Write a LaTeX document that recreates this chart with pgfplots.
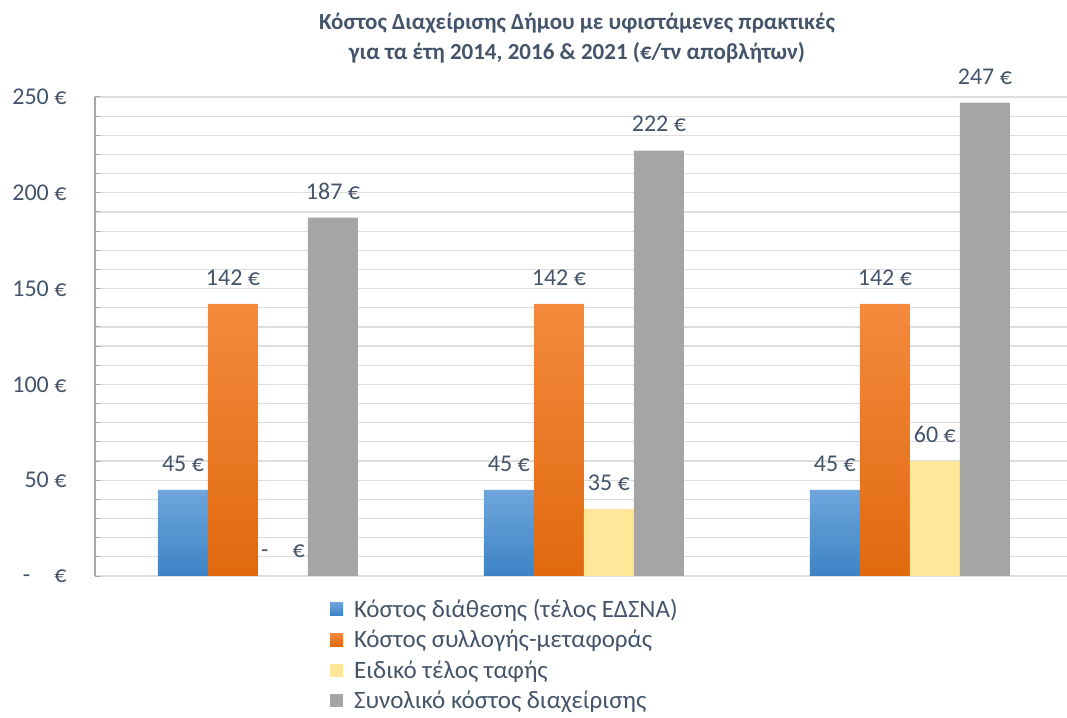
\documentclass[border=0pt]{standalone}
\usepackage{fontspec}
\setmainfont{Carlito}
\usepackage{pgfplots}
\pgfplotsset{compat=1.18}
\definecolor{txt}{HTML}{44546A}
\definecolor{grd}{HTML}{DDDDDD}
\definecolor{axl}{HTML}{A6A6A6}
\definecolor{bltop}{HTML}{6EA6DC}
\definecolor{blbot}{HTML}{3D83C5}
\definecolor{ortop}{HTML}{F48A3D}
\definecolor{orbot}{HTML}{E0690F}
\definecolor{yel}{HTML}{FFE699}
\definecolor{gry}{HTML}{A5A5A5}
\begin{document}
\begin{tikzpicture}
\useasboundingbox (0,0) rectangle (1067bp,718bp);
\node[font=\fontsize{23bp}{30bp}\selectfont\bfseries, text=txt, align=center, anchor=north] at (577bp,708bp)
  {Κόστος Διαχείρισης Δήμου με υφιστάμενες πρακτικές\\για τα έτη 2014, 2016 \& 2021 (€/τν αποβλήτων)};
\begin{axis}[
  at={(95bp,142bp)}, anchor=south west,
  scale only axis, width=972bp, height=479bp,
  xmin=-0.5, xmax=2.482, ymin=0, ymax=250,
  ybar=0pt, bar width=50bp,
  xtick=\empty,
  ytick={0,50,100,150,200,250},
  yticklabels={{-\quad €},{50 €},{100 €},{150 €},{200 €},{250 €}},
  minor y tick num=4,
  ymajorgrids, yminorgrids,
  major grid style={grd, line width=1.2bp},
  minor grid style={grd, line width=1.2bp},
  axis x line*=bottom, axis y line*=left,
  x axis line style={draw=none},
  y axis line style={axl, line width=1.2bp},
  tick align=inside,
  major tick length=5bp, minor tick length=5bp,
  tick style={axl, line width=1bp},
  ticklabel style={font=\fontsize{24bp}{28bp}\selectfont, text=txt},
  yticklabel style={xshift=-25bp},
  /pgf/number format/assume math mode=true,
  nodes near coords={\pgfmathprintnumber[assume math mode=true]{\pgfplotspointmeta}~€},
  every node near coord/.append style={font=\fontsize{24bp}{28bp}\selectfont, text=txt, yshift=15bp},
  legend style={at={(0.2418,-0.043)}, anchor=north west, draw=none, fill=none,
    font=\fontsize{25bp}{29bp}\selectfont, text=txt, row sep=7.5bp, inner sep=0pt,
    nodes={inner xsep=11bp}},
  legend cell align=left,
  legend image code/.code={\fill[#1] (0bp,-6.5bp) rectangle (13bp,6.5bp);},
]
\addplot[draw=none, top color=bltop, bottom color=blbot] coordinates {(0,45) (1,45) (2,45)};
\addplot[draw=none, top color=ortop, bottom color=orbot] coordinates {(0,142) (1,142) (2,142)};
\addplot[draw=none, fill=yel, point meta=explicit symbolic, nodes near coords={\pgfplotspointmeta}]
  coordinates {(0,0)[{-\quad €}] (1,35)[35 €] (2,60)[60 €]};
\addplot[draw=none, fill=gry] coordinates {(0,187) (1,222) (2,247)};
\legend{Κόστος διάθεσης (τέλος ΕΔΣΝΑ), Κόστος συλλογής-μεταφοράς, Ειδικό τέλος ταφής, Συνολικό κόστος διαχείρισης}
\end{axis}
\end{tikzpicture}
\end{document}
